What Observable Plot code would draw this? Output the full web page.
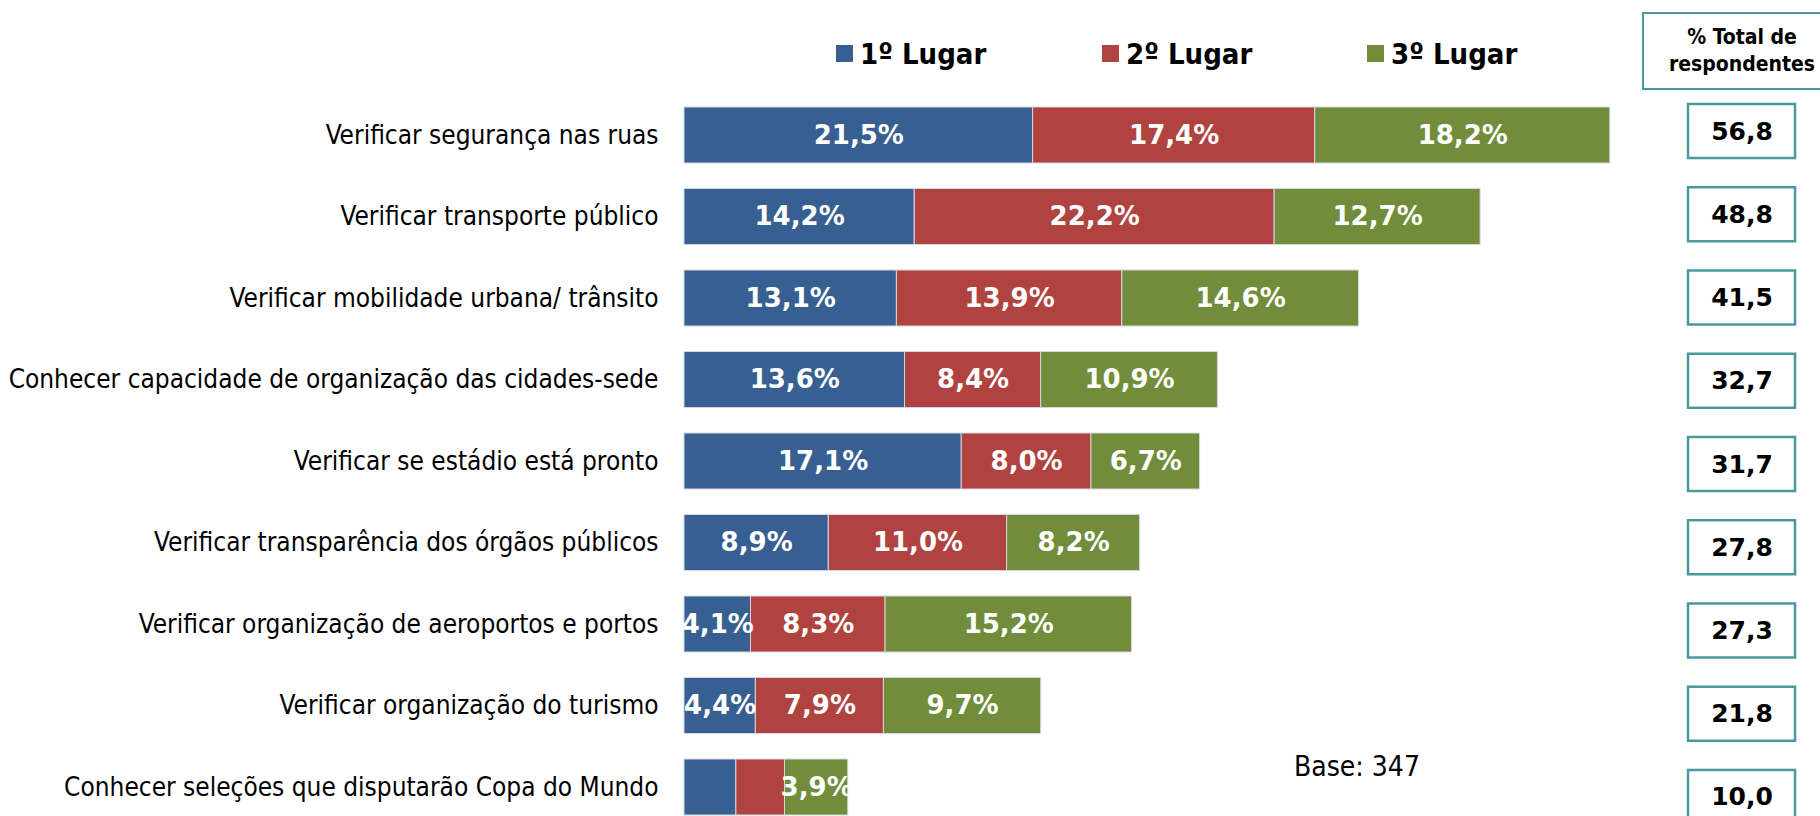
<!DOCTYPE html>
<html><head><meta charset="utf-8">
<script src="https://cdn.jsdelivr.net/npm/d3@7"></script>
<script src="https://cdn.jsdelivr.net/npm/@observablehq/plot@0.6"></script>
<style>
html,body{margin:0;padding:0;background:#fff;overflow:hidden;width:1820px;height:816px}
#wrap{position:relative;width:1820px;height:816px;overflow:hidden;background:#fff}
#wrap > svg, #wrap > figure{position:absolute;top:0;margin:0}
.leg{position:absolute;top:36.5px;height:34px;display:flex;align-items:center;font-family:'DejaVu Sans Condensed','DejaVu Sans';font-weight:bold;font-size:29px;line-height:34px;color:#000;white-space:nowrap}
.leg .sw{display:inline-block;width:17px;height:17px;margin-right:7px}
#hdr{position:absolute;left:1642px;top:12px;width:200px;height:78px;box-sizing:border-box;border:2.5px solid #4a9a9c}
#hdrtxt{position:absolute;left:1642px;top:24px;width:200px;text-align:center;font-family:'DejaVu Sans Condensed','DejaVu Sans';font-weight:bold;font-size:21px;line-height:27px;color:#000}
#base{position:absolute;left:1294px;top:753px;font-family:'DejaVu Sans Condensed','DejaVu Sans';font-size:28px;line-height:28px;color:#000;white-space:nowrap}
</style></head><body><div id="wrap"></div>
<script>
const categories = [
  "Verificar segurança nas ruas",
  "Verificar transporte público",
  "Verificar mobilidade urbana/ trânsito",
  "Conhecer capacidade de organização das cidades-sede",
  "Verificar se estádio está pronto",
  "Verificar transparência dos órgãos públicos",
  "Verificar organização de aeroportos e portos",
  "Verificar organização do turismo",
  "Conhecer seleções que disputarão Copa do Mundo"
];
const primeiro = [21.5, 14.2, 13.1, 13.6, 17.1, 8.9, 4.1, 4.4, 3.2];
const segundo  = [17.4, 22.2, 13.9, 8.4, 8.0, 11.0, 8.3, 7.9, 3.0];
const terceiro = [18.2, 12.7, 14.6, 10.9, 6.7, 8.2, 15.2, 9.7, 3.9];
const totais   = [56.8, 48.8, 41.5, 32.7, 31.7, 27.8, 27.3, 21.8, 10.0];
const seriesNames = ["1º Lugar", "2º Lugar", "3º Lugar"];
const seriesColors = ["#375f91", "#b04340", "#718c3a"];
const headerLines = ["% Total de", "respondentes"];
const baseText = "Base: 347";

const fmt = v => v.toFixed(1).replace(".", ",");
const rows = [];
categories.forEach((c, i) => {
  [primeiro, segundo, terceiro].forEach((arr, k) => rows.push({cat: c, serie: seriesNames[k], value: arr[i]}));
});
const boxRows = categories.map((c, i) => ({cat: c, total: totais[i]}));

const wrap = document.getElementById("wrap");

const main = Plot.plot({
  width: 1820, height: 816,
  marginLeft: 684, marginRight: 163.2, marginTop: 107, marginBottom: 1,
  x: {domain: [0, 60], axis: null},
  y: {domain: categories, paddingInner: 0.313, paddingOuter: 0, round: false, label: null, tickSize: 0, tickPadding: 26},
  color: {domain: seriesNames, range: seriesColors},
  style: {fontFamily: "'DejaVu Sans Condensed', 'DejaVu Sans'", fontSize: "26px", color: "#000", background: "transparent"},
  marks: [
    Plot.barX(rows, Plot.stackX({x: "value", y: "cat", fill: "serie", stroke: "#d3d8e0", strokeWidth: 1})),
    Plot.text(rows, Plot.stackX({
      x: "value", y: "cat", z: "serie",
      text: d => d.value >= 3.5 ? fmt(d.value) + "%" : null,
      fill: "white", fontWeight: "bold", fontSize: 26, fontFamily: "DejaVu Sans"
    }))
  ]
});
main.style.left = "0px";
wrap.appendChild(main);

const box = Plot.plot({
  width: 160, height: 830,
  marginLeft: 28, marginRight: 25, marginTop: 104, marginBottom: 6,
  x: {domain: [0, 1], axis: null},
  y: {domain: categories, paddingInner: 0.351, paddingOuter: 0, round: false, axis: null},
  style: {background: "transparent"},
  marks: [
    Plot.barX(boxRows, {x1: 0, x2: 1, y: "cat", fill: "white", stroke: "#4a9a9c", strokeWidth: 2.5}),
    Plot.text(boxRows, {x: 0.5, y: "cat", text: d => fmt(d.total), fill: "#000", fontWeight: "bold", fontSize: 25, fontFamily: "DejaVu Sans"})
  ]
});
box.style.left = "1660px";
wrap.appendChild(box);

const legX = [836, 1102, 1367];
seriesNames.forEach((n, k) => {
  const d = document.createElement("div");
  d.className = "leg";
  d.style.left = legX[k] + "px";
  const sw = document.createElement("span");
  sw.className = "sw";
  sw.style.background = seriesColors[k];
  const t = document.createElement("span");
  t.textContent = n;
  d.appendChild(sw); d.appendChild(t);
  wrap.appendChild(d);
});

const hdr = document.createElement("div"); hdr.id = "hdr"; wrap.appendChild(hdr);
const hdrtxt = document.createElement("div"); hdrtxt.id = "hdrtxt";
hdrtxt.innerHTML = headerLines.join("<br>");
wrap.appendChild(hdrtxt);

const base = document.createElement("div"); base.id = "base"; base.textContent = baseText; wrap.appendChild(base);
</script>
</body></html>
